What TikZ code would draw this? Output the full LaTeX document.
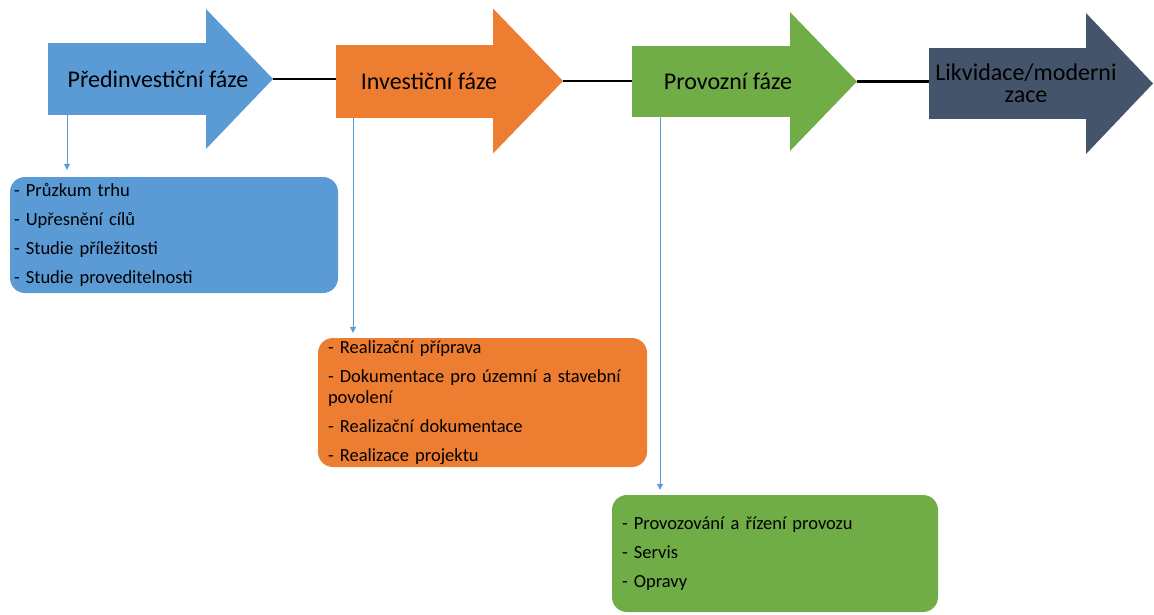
\documentclass[tikz,border=0pt]{standalone}
\usepackage{fontspec}
\setmainfont{Carlito}
\usepackage{xcolor}
\usepackage{tikz}
\usetikzlibrary{arrows.meta}

\definecolor{predblue}{HTML}{5B9BD5}
\definecolor{invorange}{HTML}{ED7D31}
\definecolor{provgreen}{HTML}{70AD47}
\definecolor{likvnavy}{HTML}{44546A}

\begin{document}
\begin{tikzpicture}[x=1pt,y=-1pt,
	phasebody/.style={inner sep=0pt, outer sep=0pt},
	phasetext/.style={font=\fontsize{24}{22}\selectfont, text=black, align=center},
	taskbox/.style={rounded corners=15pt, align=left, inner ysep=0pt, inner xsep=10pt, font=\fontsize{18.5}{21}\selectfont},
	link/.style={draw=predblue, line width=1pt, -{Triangle[width=6pt,length=6pt]}},
	joint/.style={line width=2.5pt, black}]
						\useasboundingbox (0,0) rectangle (1154,614);
						% phase arrows
						\node[phasebody, fill=predblue, minimum width=158pt, minimum height=72pt] (pre) at (127,79) {};
						\fill[predblue] ([yshift=34pt]pre.north east) -- (273,79) coordinate (pretip) -- ([yshift=-34pt]pre.south east) -- cycle;
						\node[phasebody, fill=invorange, minimum width=157pt, minimum height=73pt] (inv) at (414.5,81) {};
						\fill[invorange] ([yshift=36pt]inv.north east) -- (563,81) coordinate (invtip) -- ([yshift=-36pt]inv.south east) -- cycle;
						\node[phasebody, fill=provgreen, minimum width=158pt, minimum height=71pt] (prov) at (711,81.5) {};
						\fill[provgreen] ([yshift=34pt]prov.north east) -- (857,81.5) coordinate (provtip) -- ([yshift=-34pt]prov.south east) -- cycle;
						\node[phasebody, fill=likvnavy, minimum width=157pt, minimum height=71pt] (likv) at (1007.5,83.5) {};
						\fill[likvnavy] ([yshift=35pt]likv.north east) -- (1153,83.5) coordinate (likvtip) -- ([yshift=-35pt]likv.south east) -- cycle;
						\node[phasetext] (pretext) at (158,79) {Předinvestiční fáze};
						\node[phasetext] (invtext) at (429,81) {Investiční fáze};
						\node[phasetext] (provtext) at (728,81) {Provozní fáze};
						\node[phasetext] (likvtext) at (1026,83) {Likvidace/moderni\\zace};
						% joints between phases
						\draw[joint] (pretip) -- (pretip -| inv.west);
						\draw[joint] (invtip) -- (invtip -| prov.west);
						\draw[joint] (provtip) -- (provtip -| likv.west);
						% task boxes
						\node[taskbox, fill=predblue, inner xsep=4pt, text width=320pt, minimum width=328pt, minimum height=116pt] (predtasks) at (174,235) {- Průzkum trhu\\[8pt]- Upřesnění cílů\\[8pt]- Studie příležitosti\\[8pt]- Studie proveditelnosti};
						\node[taskbox, fill=invorange, text width=309pt, minimum width=329pt, minimum height=129pt] (invtasks) at (482.5,402.5) {- Realizační příprava\\[8pt]- Dokumentace pro územní a stavební\\povolení\\[8pt]- Realizační dokumentace\\[8pt]- Realizace projektu};
						\node[taskbox, fill=provgreen, text width=306pt, minimum width=326pt, minimum height=117pt] (provtasks) at (775,553.5) {- Provozování a řízení provozu\\[8pt]- Servis\\[8pt]- Opravy};
						% links to tasks
						\draw[link, shorten >=7pt] ([xshift=19pt]pre.south west) -- ([xshift=19pt]pre.south west |- predtasks.north);
						\draw[link, shorten >=5pt] ([xshift=17pt]inv.south west) -- ([xshift=17pt]inv.south west |- invtasks.north);
						\draw[link, shorten >=5pt] ([xshift=28pt]prov.south west) -- ([xshift=28pt]prov.south west |- provtasks.north);
					\end{tikzpicture}
\end{document}
